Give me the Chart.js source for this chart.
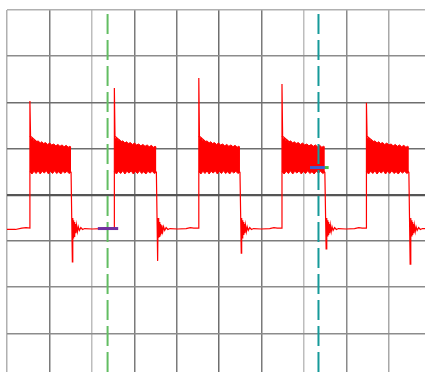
<!DOCTYPE html>
<html>
<head>
<meta charset="utf-8">
<script src="https://cdn.jsdelivr.net/npm/chart.js@4.4.1/dist/chart.umd.min.js"></script>
<style>
  html, body { margin: 0; padding: 0; background: #ffffff; overflow: hidden; }
  canvas { display: block; }
</style>
</head>
<body>
<canvas id="scope" width="425" height="372"></canvas>
<script>
// Screen divisions: time axis 0..9.85 div, amplitude axis -3.84..4 div
const timeTicks = [0, 1, 2, 3, 4, 5, 6, 7, 8, 9];
const levelTicks = [-3, -2, -1, 0, 1, 2, 3, 4];

// Pulse edges (div) and per-cycle overshoot peaks (div)
const riseTimes  = [0.54, 2.53, 4.52, 6.48, 8.47];
const fallTimes  = [1.51, 3.52, 5.49, 7.49, 9.47];
const spikePeaks = [2.03, 2.31, 2.53, 2.40, 1.99];
const spikeDips  = [-1.45, -1.43, -1.26, -1.17, -1.50];
const lowLevel   = -0.74;

// Noisy high-state envelope: [fraction of pulse width, level]
const bandTopProfile = [
  [0.00, 1.27], [0.03, 1.21], [0.06, 1.23], [0.09, 1.17], [0.12, 1.19],
  [0.16, 1.14], [0.20, 1.17], [0.25, 1.12], [0.29, 1.15], [0.33, 1.11],
  [0.38, 1.13], [0.43, 1.09], [0.48, 1.12], [0.53, 1.08], [0.58, 1.10],
  [0.63, 1.06], [0.68, 1.09], [0.73, 1.05], [0.78, 1.08], [0.83, 1.04],
  [0.88, 1.07], [0.93, 1.03], [0.97, 1.05], [1.00, 1.03]
];
const bandBottomProfile = [
  [0.00, 0.50], [0.05, 0.45], [0.10, 0.51], [0.15, 0.46], [0.20, 0.52],
  [0.25, 0.45], [0.30, 0.51], [0.35, 0.47], [0.40, 0.52], [0.45, 0.45],
  [0.50, 0.51], [0.55, 0.46], [0.60, 0.52], [0.65, 0.46], [0.70, 0.50],
  [0.75, 0.45], [0.80, 0.51], [0.85, 0.47], [0.90, 0.51], [0.95, 0.46], [1.00, 0.49]
];

// Ringing after each falling edge and the low-state ripple: [offset from fall (div), level]
const ringProfile = [
  [0.040, -0.50], [0.050, -0.93], [0.060, -0.55], [0.070, -0.90],
  [0.080, -0.59], [0.090, -0.87], [0.100, -0.63], [0.115, -0.83],
  [0.130, -0.66], [0.150, -0.80], [0.170, -0.69], [0.195, -0.77],
  [0.230, -0.71], [0.270, -0.75], [0.320, -0.73]
];
const lowRipple = [[0.50, -0.74], [0.70, -0.73], [0.80, -0.71], [0.88, -0.72], [0.95, -0.72]];
const leadIn = [[0.00, -0.75], [0.20, -0.75], [0.35, -0.72], [0.45, -0.71]];

// Cursors and their readout markers
const cursorA = 2.37;
const cursorB = 7.34;
const markerA = [[2.14, -0.73], [2.62, -0.73]];
const markerB = [[7.14, 0.59], [7.49, 0.59]];
const markerBTip = [[7.49, 0.59], [7.58, 0.59]];

const xMax = 9.85;
const yMin = -3.835;
const yMax = 4;

const pt = ([x, y]) => ({ x, y });

// Build the red trace from the edges and levels
const trace = leadIn.map(pt);
riseTimes.forEach((r, i) => {
  const f = fallTimes[i];
  trace.push({ x: r, y: lowLevel + 0.02 });
  trace.push({ x: r, y: spikePeaks[i] });
  trace.push({ x: r + 0.015, y: bandTopProfile[0][1] });
  trace.push({ x: f, y: bandBottomProfile[bandBottomProfile.length - 1][1] });
  trace.push({ x: f + 0.03, y: spikeDips[i] });
  const nextRise = i + 1 < riseTimes.length ? riseTimes[i + 1] : xMax + 0.1;
  ringProfile.concat(lowRipple).forEach(([dx, v]) => {
    if (f + dx < nextRise) trace.push({ x: f + dx, y: v });
  });
  if (i === riseTimes.length - 1) trace.push({ x: xMax + 0.1, y: lowLevel });
});

// High-state noise bands, one filled pair per pulse
const bandSets = [];
riseTimes.forEach((r, i) => {
  const w = fallTimes[i] - r;
  bandSets.push({
    data: bandTopProfile.map(([p, v]) => ({ x: r + p * w, y: v })),
    borderColor: '#ff0000', borderWidth: 1, backgroundColor: '#ff0000',
    fill: '+1', pointRadius: 0
  });
  bandSets.push({
    data: bandBottomProfile.map(([p, v]) => ({ x: r + p * w, y: v })),
    borderColor: '#ff0000', borderWidth: 1, fill: false, pointRadius: 0
  });
});

const xGridColors = ['#b0b0b0', '#7a7a7a', '#bdbdbd', '#7a7a7a', '#7a7a7a', '#6e6e6e', '#7a7a7a', '#bdbdbd', '#8a8a8a', '#a8a8a8'];
const yGridColors = { '-3': '#8c8c8c', '-2': '#8c8c8c', '-1': '#7c7c7c', '0': '#555555', '1': '#6e6e6e', '2': '#6e6e6e', '3': '#8c8c8c', '4': '#b0b0b0' };

new Chart(document.getElementById('scope'), {
  type: 'line',
  data: {
    datasets: [
      { data: markerA.map(pt), borderColor: '#7030a0', borderWidth: 3, pointRadius: 0, fill: false },
      { data: markerB.map(pt), borderColor: '#3e5fd0', borderWidth: 3, pointRadius: 0, fill: false },
      { data: markerBTip.map(pt), borderColor: '#3fc43f', borderWidth: 3, pointRadius: 0, fill: false },
      { data: [{ x: cursorA, y: yMin }, { x: cursorA, y: yMax }], borderColor: '#62bd62', borderWidth: 2, borderDash: [20, 6], pointRadius: 0, fill: false },
      { data: [{ x: cursorB, y: yMin }, { x: cursorB, y: yMax }], borderColor: '#169a9a', borderWidth: 2, borderDash: [20, 6], pointRadius: 0, fill: false },
      { data: trace, borderColor: '#ff0000', borderWidth: 1.2, pointRadius: 0, fill: false, tension: 0 },
      ...bandSets
    ]
  },
  options: {
    responsive: false,
    devicePixelRatio: 1,
    animation: false,
    events: [],
    layout: { padding: { left: 7, top: 10, right: 0, bottom: 0 } },
    plugins: { legend: { display: false }, tooltip: { enabled: false } },
    elements: { line: { borderJoinStyle: 'miter' } },
    scales: {
      x: {
        type: 'linear', min: 0, max: xMax,
        afterBuildTicks: s => { s.ticks = timeTicks.map(v => ({ value: v })); },
        ticks: { display: false },
        border: { display: false },
        grid: { drawTicks: false, lineWidth: 1.5, color: c => xGridColors[timeTicks.indexOf(c.tick.value)] || '#999' }
      },
      y: {
        type: 'linear', min: yMin, max: yMax,
        afterBuildTicks: s => { s.ticks = levelTicks.map(v => ({ value: v })); },
        ticks: { display: false },
        border: { display: false },
        grid: {
          drawTicks: false,
          lineWidth: c => (c.tick.value === 0 ? 2.2 : 1.5),
          color: c => yGridColors[String(c.tick.value)] || '#999'
        }
      }
    }
  }
});
</script>
</body>
</html>
